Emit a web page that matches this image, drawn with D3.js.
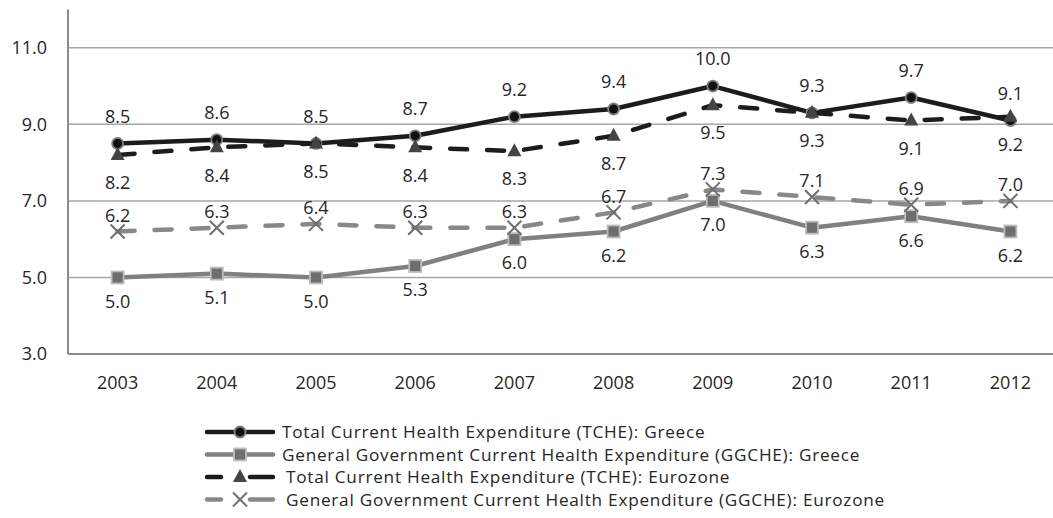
<!DOCTYPE html>
<html lang="en">
<head>
<meta charset="UTF-8">
<script src="https://cdn.jsdelivr.net/npm/d3@7"></script>
<style>
  body { margin: 0; background: #fff; }
  svg { display: block; font-family: "Open Sans", sans-serif; }
  .grid line { stroke: #a6a6a6; stroke-width: 1.5; }
  .lbl { font-size: 18px; fill: #262626; }
  .leg { font-size: 17.2px; fill: #262626; letter-spacing: 0.75px; }
</style>
</head>
<body>
<div id="chart"></div>
<script>
const years = ["2003", "2004", "2005", "2006", "2007", "2008", "2009", "2010", "2011", "2012"];
const tcheGreece = [8.5, 8.6, 8.5, 8.7, 9.2, 9.4, 10.0, 9.3, 9.7, 9.1];
const ggcheGreece = [5.0, 5.1, 5.0, 5.3, 6.0, 6.2, 7.0, 6.3, 6.6, 6.2];
const tcheEuro = [8.2, 8.4, 8.5, 8.4, 8.3, 8.7, 9.5, 9.3, 9.1, 9.2];
const ggcheEuro = [6.2, 6.3, 6.4, 6.3, 6.3, 6.7, 7.3, 7.1, 6.9, 7.0];
const yTicks = [3, 5, 7, 9, 11];
const seriesNames = [
  "Total Current Health Expenditure (TCHE): Greece",
  "General Government Current Health Expenditure (GGCHE): Greece",
  "Total Current Health Expenditure (TCHE): Eurozone",
  "General Government Current Health Expenditure (GGCHE): Eurozone"
];

const width = 1053, height = 518;
const plotLeft = 68, plotRight = 1060, plotTop = 9.5, plotBottom = 354;

const svg = d3.select("#chart").append("svg").attr("width", width).attr("height", height);

const x = d3.scaleBand().domain(years).range([plotLeft, plotRight]);
const y = d3.scaleLinear().domain([3, 12]).range([plotBottom, plotTop]);
const cx = d => x(d) + x.bandwidth() / 2;

// gridlines
svg.append("g").attr("class", "grid")
  .selectAll("line").data(yTicks.filter(t => t > 3)).enter().append("line")
  .attr("x1", plotLeft).attr("x2", width).attr("y1", d => y(d)).attr("y2", d => y(d));

// axes
svg.append("line").attr("x1", plotLeft).attr("x2", plotLeft).attr("y1", plotTop).attr("y2", plotBottom)
  .attr("stroke", "#8c8c8c").attr("stroke-width", 2);
svg.append("line").attr("x1", plotLeft).attr("x2", width).attr("y1", plotBottom).attr("y2", plotBottom)
  .attr("stroke", "#8c8c8c").attr("stroke-width", 2);

svg.selectAll(".ytick").data(yTicks).enter().append("text").attr("class", "lbl")
  .attr("x", 47).attr("y", d => y(d)).attr("dy", "0.35em").attr("text-anchor", "end")
  .text(d => d3.format(".1f")(d));

svg.selectAll(".xtick").data(years).enter().append("text").attr("class", "lbl")
  .attr("x", d => cx(d)).attr("y", 383).attr("dy", "0.35em").attr("text-anchor", "middle")
  .text(d => d);

// marker drawers
const markers = {
  circle: (g, px, py) => g.append("circle").attr("cx", px).attr("cy", py).attr("r", 5.5)
    .attr("fill", "#111").attr("stroke", "#7f7f7f").attr("stroke-width", 1.8),
  square: (g, px, py) => g.append("rect").attr("x", px - 6).attr("y", py - 6).attr("width", 12).attr("height", 12)
    .attr("fill", "#6e6e6e").attr("stroke", "#bdbdbd").attr("stroke-width", 1.8),
  triangle: (g, px, py) => g.append("path").attr("transform", `translate(${px},${py})`)
    .attr("d", "M0,-8L7,5L-7,5Z").attr("fill", "#444"),
  cross: (g, px, py) => g.append("path").attr("transform", `translate(${px},${py})`)
    .attr("d", "M-7,-7L7,7M-7,7L7,-7").attr("stroke", "#6e6e6e").attr("stroke-width", 2).attr("fill", "none")
};

const series = [
  { values: tcheGreece, color: "#1c1c1c", dash: null, marker: "circle", off: -27 },
  { values: ggcheGreece, color: "#808080", dash: null, marker: "square", off: 24 },
  { values: tcheEuro, color: "#1c1c1c", dash: "17 20", marker: "triangle", off: 28 },
  { values: ggcheEuro, color: "#888888", dash: "17 20", marker: "cross", off: -16 }
];

const line = d3.line().x((d, i) => cx(years[i])).y(d => y(d));

// series drawn in order, later ones on top
series.forEach(s => {
  const g = svg.append("g");
  g.append("path").datum(s.values).attr("d", line)
    .attr("fill", "none").attr("stroke", s.color).attr("stroke-width", 4.5)
    .attr("stroke-linecap", "round").attr("stroke-linejoin", "round")
    .attr("stroke-dasharray", s.dash);
  s.values.forEach((v, i) => markers[s.marker](g, cx(years[i]), y(v)));
});

series.forEach(s => {
  svg.append("g").selectAll("text").data(s.values).enter().append("text").attr("class", "lbl")
    .attr("x", (d, i) => cx(years[i])).attr("y", d => y(d) + s.off).attr("dy", "0.35em")
    .attr("text-anchor", "middle").text(d => d3.format(".1f")(d));
});

// legend
const lg = svg.append("g");
series.forEach((s, i) => {
  const ly = 432 + i * 22.5;
  const row = lg.append("g");
  if (s.dash) {
    row.append("line").attr("x1", 207).attr("x2", 221).attr("y1", ly).attr("y2", ly)
      .attr("stroke", s.color).attr("stroke-width", 4.5).attr("stroke-linecap", "round");
    row.append("line").attr("x1", 250).attr("x2", 273).attr("y1", ly).attr("y2", ly)
      .attr("stroke", s.color).attr("stroke-width", 4.5).attr("stroke-linecap", "round");
  } else {
    row.append("line").attr("x1", 207).attr("x2", 273).attr("y1", ly).attr("y2", ly)
      .attr("stroke", s.color).attr("stroke-width", 4.5).attr("stroke-linecap", "round");
  }
  markers[s.marker](row, 240, ly);
  row.append("text").attr("class", "leg").attr("x", s.dash ? 286 : 282).attr("y", ly).attr("dy", "0.35em")
    .text(seriesNames[i]);
});
</script>
</body>
</html>
